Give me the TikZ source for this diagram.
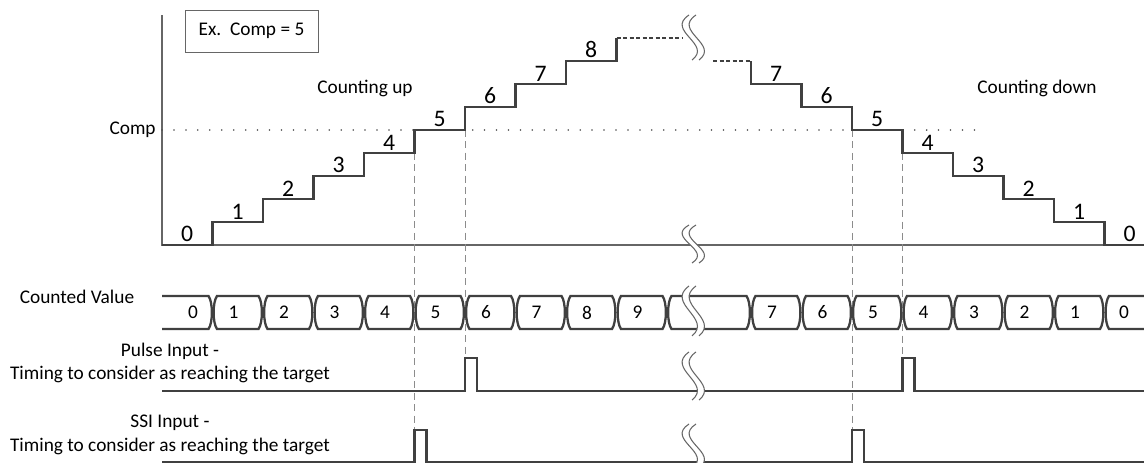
\documentclass[tikz,border=0pt]{standalone}
\usepackage{fontspec}
\setmainfont{Carlito}
\usepackage{tikz}

% break mark: x centre, top, bottom
\newcommand\brkmark[3]{%
  \fill[white] ({#1},#2) .. controls ({#1-24},{#2+0.35*(#3-#2)}) and ({#1+24},{#2+0.65*(#3-#2)}) .. ({#1+3},#3)
    -- ({#1+10},#3) .. controls ({#1+31},{#2+0.65*(#3-#2)}) and ({#1-17},{#2+0.35*(#3-#2)}) .. ({#1+7},#2) -- cycle;
  \draw[brk] ({#1},#2) .. controls ({#1-24},{#2+0.35*(#3-#2)}) and ({#1+24},{#2+0.65*(#3-#2)}) .. ({#1+3},#3);
  \draw[brk] ({#1+7},#2) .. controls ({#1-17},{#2+0.35*(#3-#2)}) and ({#1+31},{#2+0.65*(#3-#2)}) .. ({#1+10},#3);}

\begin{document}
\begin{tikzpicture}[x=0.02cm, y=-0.02cm,
    sig/.style={draw=black!75, line width=1.3pt},
    axis/.style={draw=black!60, line width=0.6pt},
    guide/.style={draw=black!45, line width=0.5pt, dash pattern=on 4pt off 2.5pt},
    brk/.style={draw=black!60, line width=0.6pt},
    lbl/.style={font=\fontsize{11}{13.5}\selectfont, inner sep=0pt, align=center},
    num/.style={font=\fontsize{13.5}{15}\selectfont, anchor=south, inner sep=1.5pt},
    val/.style={font=\fontsize{11}{13}\selectfont, inner sep=0pt}
  ]
  \useasboundingbox (0,0) rectangle (1144,463);

  % axes and compare level
  \draw[axis] (162,15) -- (162,245) -- (1144,245);
  \draw[black!70, line width=1pt, line cap=round, dash pattern=on 0pt off 6.8pt] (162,130) -- (985,130);

  % guides
  \draw[guide] (414.5,130) -- (414.5,463);
  \draw[guide] (465,107) -- (465,358);
  \draw[guide] (852,130) -- (852,463);
  \draw[guide] (902.5,153) -- (902.5,358);

  % counter value, up and down
  \draw[sig] (162,245) \foreach \k in {1,...,9} { -| ({162+50.5*\k},{245-23*\k}) };
  \draw[sig, dash pattern=on 2.5pt off 1.2pt] (616.5,38) -- (682,38);
  \draw[sig, dash pattern=on 2.5pt off 1.2pt] (713,61) -- (751,61);
  \draw[sig] (751,61) \foreach \k in {1,...,7} { |- ({751+50.5*\k},{61+23*\k}) } |- (1144,245);
  \foreach \k in {0,...,8}
    \node[num] (up\k) at ({187.25+50.5*\k},{245-23*\k}) {\k};
  \foreach \k in {0,...,7}
    \node[num] (dn\k) at ({1129.75-50.5*\k},{245-23*\k}) {\k};

  \node[draw=black!60, line width=0.5pt, minimum width=2.66cm, minimum height=0.84cm,
        font=\fontsize{11}{13}\selectfont] (ex) at (251.5,31) {Ex.\ \ Comp = 5};
  \node[lbl] (cup) at (365,88) {Counting up};
  \node[lbl] (cdown) at (1037,88) {Counting down};
  \node[lbl, anchor=east] (comp) at (156,130) {Comp};

  % counted value bus
  \node[lbl] (cval) at (77,297) {Counted Value};
  \draw[sig] (162,296) -- (208.5,296) .. controls (213,302) and (213,323) .. (208.5,329) -- (162,329);
  \node[val] (cv0) at (193,312.5) {0};
  \foreach \k [evaluate=\k as \a using 162+50.5*\k] in {1,...,9} {
    \draw[sig] ({\a+4.5},296) -- ({\a+46},296) .. controls ({\a+50.5},302) and ({\a+50.5},323) .. ({\a+46},329)
      -- ({\a+4.5},329) .. controls (\a,323) and (\a,302) .. ({\a+4.5},296) -- cycle;
    \node[val] (cv\k) at ({\a+21},312.5) {\k};
  }
  \draw[sig] (671.5,296) -- (746.5,296) .. controls (751,302) and (751,323) .. (746.5,329)
    -- (671.5,329) .. controls (667,323) and (667,302) .. (671.5,296) -- cycle;
  \foreach \k [evaluate=\k as \a using 751+50.5*(7-\k)] in {7,...,1} {
    \draw[sig] ({\a+4.5},296) -- ({\a+46},296) .. controls ({\a+50.5},302) and ({\a+50.5},323) .. ({\a+46},329)
      -- ({\a+4.5},329) .. controls (\a,323) and (\a,302) .. ({\a+4.5},296) -- cycle;
    \node[val] (cd\k) at ({\a+21},312.5) {\k};
  }
  \draw[sig] (1144,296) -- (1109,296) .. controls (1104.5,302) and (1104.5,323) .. (1109,329) -- (1144,329);
  \node[val] (cd0) at (1124,312.5) {0};

  % target reached
  \node[lbl] (pulse) at (170,363) {Pulse Input -\\Timing to consider as reaching the target};
  \draw[sig] (162,391) -| (465,358) -| (477,391) -| (902.5,358) -| (914.5,391) -- (1144,391);
  \node[lbl] (ssi) at (170,435) {SSI Input -\\Timing to consider as reaching the target};
  \draw[sig] (162,462) -| (414.5,430) -| (426.5,462) -| (852,430) -| (864,462) -- (1144,462);

  % breaks
  \brkmark{689}{15}{60}
  \brkmark{689}{225}{263}
  \brkmark{689}{286}{336}
  \brkmark{689}{352}{400}
  \brkmark{689}{424}{468}
\end{tikzpicture}
\end{document}
